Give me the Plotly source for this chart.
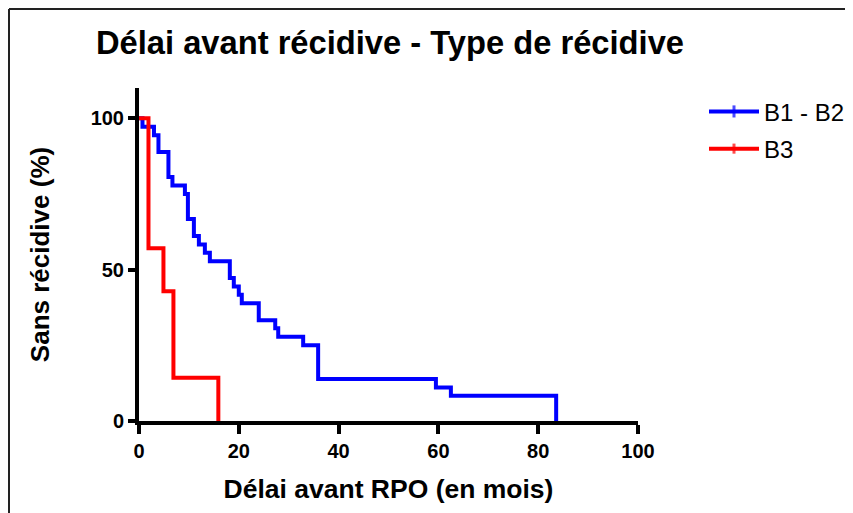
import plotly.graph_objects as go

# Kaplan-Meier step data
b12_time = [0, 0.7, 3.0, 3.9, 5.9, 6.7, 9.2, 9.8, 11.0, 12.0, 13.2, 14.2, 18.2, 19.0,
            20.0, 20.6, 24.0, 27.3, 27.9, 32.9, 35.9, 59.5, 62.5, 83.6]
b12_surv = [100, 97.2, 94.4, 88.9, 80.6, 77.8, 75.0, 66.7, 61.1, 58.3, 55.6, 52.8, 47.2, 44.4,
            41.7, 38.9, 33.3, 30.6, 27.8, 25.0, 13.9, 11.1, 8.3, 0]
b3_time = [0, 1.9, 4.9, 6.9, 15.9]
b3_surv = [100, 57.1, 42.9, 14.3, 0]

series_names = ["B1 - B2", "B3"]
x_ticks = [0, 20, 40, 60, 80, 100]
y_ticks = [0, 50, 100]

FONT = "Liberation Sans, Arial, sans-serif"
W, H = 845, 505          # page body adds an 8px offset
L, T, PW, PH = 131, 80, 499, 333

fig = go.Figure()
for name, t, s, col in [(series_names[0], b12_time, b12_surv, "#0000ff"),
                        (series_names[1], b3_time, b3_surv, "#ff0000")]:
    n = len(t)
    fig.add_trace(go.Scatter(
        x=t, y=s, name=name, mode="lines+markers", legendgroup=name,
        line=dict(color=col, width=4, shape="hv"),
        marker=dict(symbol="line-ns", size=[0] + [9] * (n - 1), color=col,
                    line=dict(color=[col] + ["rgba(0,0,0,0)"] * (n - 1), width=3)),
        cliponaxis=False,
    ))

fig.update_layout(
    width=W, height=H,
    paper_bgcolor="white", plot_bgcolor="white",
    margin=dict(l=L, r=W - L - PW, t=T, b=H - T - PH, autoexpand=False),
    title=dict(text="<b>Délai avant récidive - Type de récidive</b>",
               x=382 / W, xanchor="center", y=1 - 35 / H, yanchor="middle",
               font=dict(family=FONT, size=32.7, color="black")),
    legend=dict(x=(704 - 139) / PW, xanchor="left", y=0.996, yanchor="top",
                font=dict(family=FONT, size=24, color="black"),
                itemwidth=50, tracegroupgap=3, bgcolor="rgba(0,0,0,0)"),
    showlegend=True,
)
fig.update_xaxes(
    range=[0, 100], tickvals=x_ticks, ticktext=["<b>%d</b>" % v for v in x_ticks],
    showgrid=False, zeroline=False, showline=True, linecolor="black", linewidth=4,
    ticks="outside", ticklen=9, tickwidth=4, tickcolor="black",
    tickfont=dict(family=FONT, size=20, color="black"),
    title=dict(text="<b>Délai avant RPO (en mois)</b>",
               font=dict(family=FONT, size=26.5, color="black"), standoff=19),
)
fig.update_yaxes(
    range=[0, 110], tickvals=y_ticks, ticktext=["<b>%d</b>" % v for v in y_ticks],
    showgrid=False, zeroline=False, showline=True, linecolor="black", linewidth=4,
    ticks="outside", ticklen=7, tickwidth=4, tickcolor="black",
    tickfont=dict(family=FONT, size=20, color="black"),
    title=dict(text="<b>Sans récidive (%)</b>",
               font=dict(family=FONT, size=26, color="black"), standoff=35),
)
# frame lines (top and left) of the original picture
top_y = (421 - 9) / PH
left_x = (9 - 139) / PW
fig.add_shape(type="line", xref="paper", yref="paper",
              x0=left_x, x1=(900 - 139) / PW, y0=top_y, y1=top_y,
              line=dict(color="#222222", width=2))
fig.add_shape(type="line", xref="paper", yref="paper",
              x0=left_x, x1=left_x, y0=top_y, y1=(421 - 530) / PH,
              line=dict(color="#222222", width=2))

fig.write_html("out.html")
